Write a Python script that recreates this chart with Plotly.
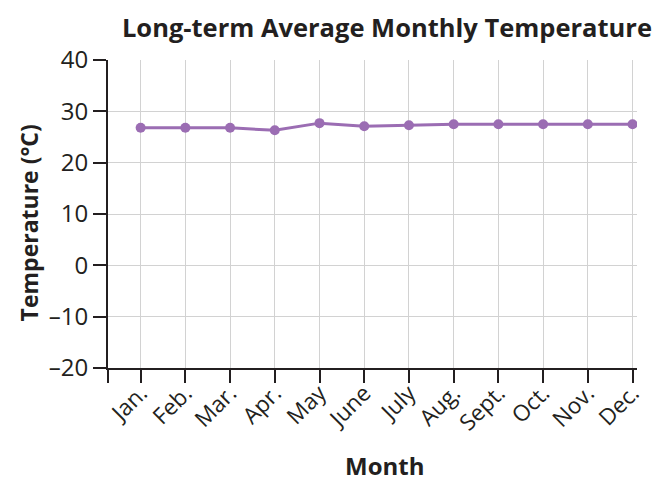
import plotly.graph_objects as go

months = ["Jan.", "Feb.", "Mar.", "Apr.", "May", "June", "July", "Aug.", "Sept.", "Oct.", "Nov.", "Dec."]
temps = [26.8, 26.8, 26.8, 26.3, 27.7, 27.1, 27.3, 27.5, 27.5, 27.5, 27.5, 27.5]
y_ticks = [-20, -10, 0, 10, 20, 30, 40]

xpos = list(range(len(months)))
x_left = -0.73
x_right = 11.1

ink = "#231f20"
purple = "#9b6db3"
grid = "#d2d2d2"
font_family = "Open Sans, Lato, sans-serif"

fig = go.Figure()
fig.add_trace(go.Scatter(
    x=xpos, y=temps, mode="lines+markers",
    line=dict(color=purple, width=3),
    marker=dict(color=purple, size=10),
    showlegend=False, hoverinfo="skip",
))

W, H = 657, 481
L, R, T, B = 108, 13, 60, 113
fig.update_layout(
    width=W, height=H,
    margin=dict(l=L, r=R, t=T, b=B),
    paper_bgcolor="white", plot_bgcolor="white",
    font=dict(family=font_family, color=ink, size=20),
    title=dict(
        text="<b>Long-term Average Monthly Temperature</b>",
        x=0.589, xanchor="center", xref="container",
        y=0.942, yanchor="middle", yref="container",
        font=dict(size=25.5, color=ink, family=font_family),
    ),
    annotations=[
        dict(text="<b>Temperature (°C)</b>", textangle=-90,
             xref="paper", yref="paper", x=-0.149, y=0.47,
             xanchor="center", yanchor="middle", showarrow=False,
             font=dict(size=23, color=ink, family=font_family)),
        dict(text="<b>Month</b>",
             xref="paper", yref="paper", x=0.522, y=-0.318,
             xanchor="center", yanchor="middle", showarrow=False,
             font=dict(size=24, color=ink, family=font_family)),
    ],
)

fig.update_xaxes(
    range=[x_left, x_right],
    tickmode="array",
    tickvals=[x_left] + xpos,
    ticktext=[""] + months,
    tickangle=-45,
    ticklabeloverflow="allow",
    ticklabelstandoff=-12,
    ticks="outside", ticklen=13, tickwidth=2, tickcolor=ink,
    showline=True, linecolor=ink, linewidth=2,
    showgrid=True, gridcolor=grid, gridwidth=1,
    zeroline=False,
    tickfont=dict(size=22.5, color=ink),
)
fig.update_yaxes(
    range=[-20, 40],
    tickmode="array", tickvals=y_ticks,
    ticktext=[("\u2013" + str(abs(v))) if v < 0 else str(v) for v in y_ticks],
    ticks="outside", ticklen=13, tickwidth=2, tickcolor=ink,
    showline=True, linecolor=ink, linewidth=2,
    showgrid=True, gridcolor=grid, gridwidth=1,
    zeroline=False,
    tickfont=dict(size=24, color=ink),
)

# remove the browser's default 8px body margin so the figure fills the window exactly
fig.write_html(
    "out.html",
    config={"displayModeBar": False, "staticPlot": True},
    post_script="document.body.style.margin='0';",
)
